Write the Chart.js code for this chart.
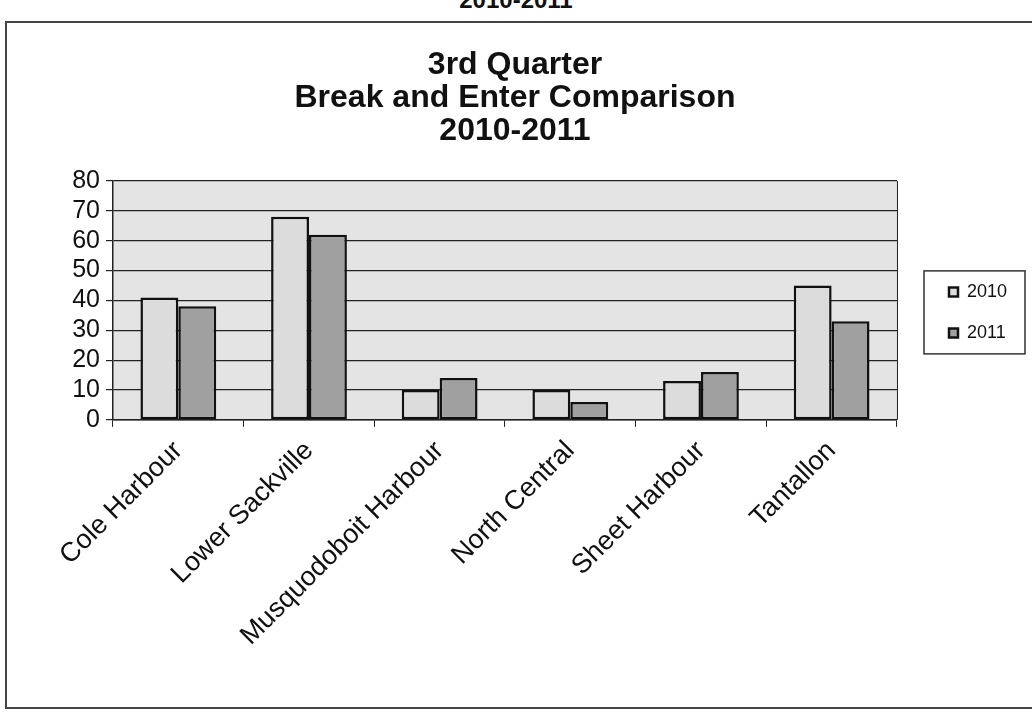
<!DOCTYPE html>
<html>
<head>
<meta charset="utf-8">
<script src="https://cdn.jsdelivr.net/npm/chart.js@4.4.0/dist/chart.umd.min.js"></script>
<style>
  html, body { margin: 0; padding: 0; background: #fff; }
  #wrap { position: relative; width: 1032px; height: 716px; overflow: hidden; }
  #frame { position: absolute; left: 5px; top: 21px; width: 1040px; height: 684px; border: 2px solid #444; pointer-events: none; }
  #cut { position: absolute; left: 0; width: 1032px; top: -14px; text-align: center; font: bold 24px "Liberation Sans", Arial, sans-serif; color: #111; }
  canvas { position: absolute; left: 0; top: 0; }
</style>
</head>
<body>
<div id="wrap">
  <div id="cut">2010-2011</div>
  <div id="frame"></div>
  <canvas id="chart" width="1032" height="716"></canvas>
</div>
<script>
const areas = ['Cole Harbour', 'Lower Sackville', 'Musquodoboit Harbour', 'North Central', 'Sheet Harbour', 'Tantallon'];
const y2010 = [41, 68, 10, 10, 13, 45];
const y2011 = [38, 62, 14, 6, 16, 33];
const yTicks = [0, 10, 20, 30, 40, 50, 60, 70, 80];
const titleLines = ['3rd Quarter', 'Break and Enter Comparison', '2010-2011'];

const FONT = "'Liberation Sans', Arial, sans-serif";
const LEG_PAD = 23;
const LEG_DROP = 12;

// grey plot background, right edge of the plot, legend box
const plotBg = {
  id: 'plotBg',
  afterLayout(chart) {
    // legend sits a bit away from the plot and lower, like the original
    const lg = chart.legend;
    const w = lg.right - lg.left;
    lg.left = 949 - LEG_PAD;
    lg.right = lg.left + w;
    lg.top += LEG_DROP;
    lg.bottom += LEG_DROP;
    // title centred on the whole frame, not only left of the legend
    chart.titleBlock.right = 1030;
  },
  beforeDraw(chart) {
    const a = chart.chartArea, ctx = chart.ctx;
    ctx.save();
    ctx.fillStyle = '#e4e4e4';
    ctx.fillRect(a.left, a.top, a.right - a.left, a.bottom - a.top);
    ctx.restore();
  },
  afterDraw(chart) {
    const a = chart.chartArea, ctx = chart.ctx;
    ctx.save();
    ctx.strokeStyle = '#222';
    ctx.lineWidth = 1;
    ctx.beginPath();
    ctx.moveTo(a.right + 0.5, a.top);
    ctx.lineTo(a.right + 0.5, a.bottom);
    ctx.stroke();
    const lg = chart.legend, hb = lg.legendHitBoxes;
    if (hb && hb.length) {
      const l = lg.left + LEG_PAD - 25;
      const last = hb[hb.length - 1];
      const t = hb[0].top + hb[0].height / 2 - 21;
      const b = last.top + last.height / 2 + 21;
      ctx.strokeStyle = '#333';
      ctx.lineWidth = 1.5;
      ctx.strokeRect(l, t, 101, b - t);
    }
    ctx.restore();
  }
};

new Chart(document.getElementById('chart'), {
  type: 'bar',
  data: {
    labels: areas,
    datasets: [
      { label: '2010', data: y2010, backgroundColor: '#dcdcdc', borderColor: '#111', borderWidth: 2.5, borderSkipped: false },
      { label: '2011', data: y2011, backgroundColor: '#a0a0a0', borderColor: '#111', borderWidth: 2.5, borderSkipped: false }
    ]
  },
  options: {
    responsive: false,
    animation: false,
    devicePixelRatio: 1,
    layout: { padding: { left: 0, right: 44, top: 0, bottom: 56 } },
    datasets: { bar: { barPercentage: 1, categoryPercentage: 0.58 } },
    plugins: {
      title: {
        display: true,
        text: titleLines,
        color: '#111',
        font: { size: 32, weight: 'bold', family: FONT, lineHeight: 1.03 },
        padding: { top: 49, bottom: 33 }
      },
      legend: {
        position: 'right',
        fullSize: false,
        align: 'center',
        labels: {
          color: '#111',
          font: { size: 18, family: FONT },
          boxWidth: 9,
          boxHeight: 9,
          padding: LEG_PAD
        }
      },
      tooltip: { enabled: false }
    },
    scales: {
      x: {
        grid: { display: true, drawOnChartArea: false, drawTicks: true, tickLength: 7, color: '#222', offset: true },
        border: { color: '#222', width: 1.5 },
        ticks: { color: '#111', font: { size: 27, family: FONT }, minRotation: 45, maxRotation: 45, autoSkip: false, padding: 8 }
      },
      y: {
        min: 0,
        max: 80,
        afterBuildTicks(scale) { scale.ticks = yTicks.map(v => ({ value: v })); },
        afterFit(scale) { scale.width = 113; },
        grid: { color: '#222', lineWidth: 1.2, tickLength: 7 },
        border: { color: '#222', width: 1.5 },
        ticks: { color: '#111', font: { size: 25, family: FONT }, padding: 6, autoSkip: false }
      }
    }
  },
  plugins: [plotBg]
});
</script>
</body>
</html>
